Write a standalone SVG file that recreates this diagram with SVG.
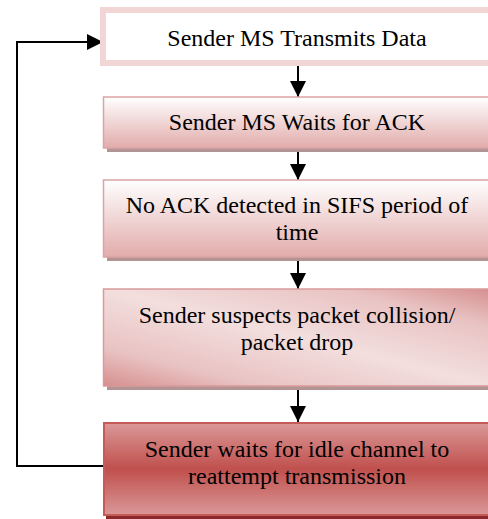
<svg xmlns="http://www.w3.org/2000/svg" width="488" height="519" viewBox="0 0 488 519">
<defs>
<style>
.t{font-family:"Liberation Serif","Times New Roman",serif;font-size:24px;fill:#000;text-anchor:middle}
.c{fill:none;stroke:#000;stroke-width:2}
.sh{fill:#b39494}
</style>
<marker id="ah" markerUnits="userSpaceOnUse" markerWidth="17" markerHeight="16" refX="16" refY="8" orient="auto">
<path d="M0,0 L16,8 L0,16 z" fill="#000"/>
</marker>
<linearGradient id="g2" x1="0" y1="0" x2="0" y2="1">
<stop offset="0" stop-color="#ffffff"/>
<stop offset="1" stop-color="#e2abab"/>
</linearGradient>
<linearGradient id="g4" x1="0" y1="1" x2="1" y2="0">
<stop offset="0" stop-color="#d68f8f"/>
<stop offset="0.2" stop-color="#e9c3c3"/>
<stop offset="0.5" stop-color="#f3dede"/>
<stop offset="0.8" stop-color="#e9c3c3"/>
<stop offset="1" stop-color="#d68f8f"/>
</linearGradient>
<linearGradient id="g5" x1="0" y1="0" x2="0" y2="1">
<stop offset="0" stop-color="#da9898"/>
<stop offset="0.5" stop-color="#c0504d"/>
<stop offset="1" stop-color="#da9898"/>
</linearGradient>
</defs>
<g id="connectors">
<line class="c" x1="298" y1="66" x2="298" y2="97" marker-end="url(#ah)"/>
<line class="c" x1="298" y1="152" x2="298" y2="180" marker-end="url(#ah)"/>
<line class="c" x1="298" y1="261" x2="298" y2="289" marker-end="url(#ah)"/>
<line class="c" x1="298" y1="390" x2="298" y2="422" marker-end="url(#ah)"/>
<polyline class="c" points="103,466 17,466 17,42 103,42" marker-end="url(#ah)"/>
</g>
<g id="n1">
<rect x="103" y="10" width="390" height="53" fill="#ffffff" stroke="#f2d6d6" stroke-width="6"/>
<text class="t" x="297" y="46">Sender MS Transmits Data</text>
</g>
<g id="n2">
<rect class="sh" x="107" y="101" width="390" height="51"/>
<rect x="103.5" y="97" width="390" height="51" fill="url(#g2)" stroke="#dba4a4" stroke-width="1.5"/>
<text class="t" x="297" y="130">Sender MS Waits for ACK</text>
</g>
<g id="n3">
<rect class="sh" x="107" y="184" width="390" height="77"/>
<rect x="103.5" y="180" width="390" height="77" fill="url(#g2)" stroke="#dba4a4" stroke-width="1.5"/>
<text class="t" x="297" y="213">No ACK detected in SIFS period of</text>
<text class="t" x="297" y="240">time</text>
</g>
<g id="n4">
<rect class="sh" x="107" y="293" width="390" height="97"/>
<rect x="103.5" y="289" width="390" height="97" fill="url(#g4)" stroke="#d99a9a" stroke-width="1.5"/>
<text class="t" x="297" y="323">Sender suspects packet collision/</text>
<text class="t" x="297" y="350">packet drop</text>
</g>
<g id="n5">
<rect x="106" y="425" width="390" height="94" fill="#8c2a2a"/>
<rect x="104" y="423" width="390" height="92" fill="url(#g5)" stroke="#c55a57" stroke-width="2"/>
<text class="t" x="297" y="457">Sender waits for idle channel to</text>
<text class="t" x="297" y="484">reattempt transmission</text>
</g>
</svg>
